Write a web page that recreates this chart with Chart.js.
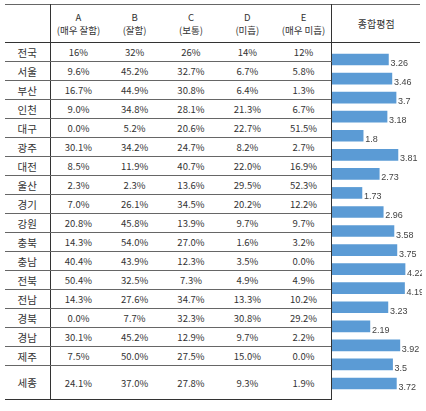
<!DOCTYPE html>
<html><head><meta charset="utf-8">
<script src="https://cdn.jsdelivr.net/npm/chart.js@4"></script>
<style>
body{margin:0;background:#fff;font-family:"Noto Sans CJK KR",sans-serif;}
#wrap{position:absolute;left:5px;top:4px;width:415px;}
table{border-collapse:collapse;font-size:9.5px;color:#333;table-layout:fixed;}
td{text-align:center;padding:0;border-bottom:1px solid #666;height:18px;}
td.lab{border-right:1px solid #333;font-size:10.5px;}
td.sc{border-left:1px solid #333;border-bottom:none;}
tr.head td{height:37px;border-bottom:1px solid #333;line-height:13px;}
tr.last td{height:33px;border-bottom:1px solid #333;}
#cv{position:absolute;left:332px;top:50px;}
</style></head><body>
<div id="wrap"><table id="tbl"></table></div>
<canvas id="cv" width="90" height="343"></canvas>
<script>
const regions = ['전국','서울','부산','인천','대구','광주','대전','울산','경기','강원','충북','충남','전북','전남','경북','경남','제주','세종'];
const colHeads = ['A<br>(매우 잘함)','B<br>(잘함)','C<br>(보통)','D<br>(미흡)','E<br>(매우 미흡)'];
const colA = ['16%','9.6%','16.7%','9.0%','0.0%','30.1%','8.5%','2.3%','7.0%','20.8%','14.3%','40.4%','50.4%','14.3%','0.0%','30.1%','7.5%','24.1%'];
const colB = ['32%','45.2%','44.9%','34.8%','5.2%','34.2%','11.9%','2.3%','26.1%','45.8%','54.0%','43.9%','32.5%','27.6%','7.7%','45.2%','50.0%','37.0%'];
const colC = ['26%','32.7%','30.8%','28.1%','20.6%','24.7%','40.7%','13.6%','34.5%','13.9%','27.0%','12.3%','7.3%','34.7%','32.3%','12.9%','27.5%','27.8%'];
const colD = ['14%','6.7%','6.4%','21.3%','22.7%','8.2%','22.0%','29.5%','20.2%','9.7%','1.6%','3.5%','4.9%','13.3%','30.8%','9.7%','15.0%','9.3%'];
const colE = ['12%','5.8%','1.3%','6.7%','51.5%','2.7%','16.9%','52.3%','12.2%','9.7%','3.2%','0.0%','4.9%','10.2%','29.2%','2.2%','0.0%','1.9%'];
const scoreLabels = ['3.26','3.46','3.7','3.18','1.8','3.81','2.73','1.73','2.96','3.58','3.75','4.22','4.19','3.23','2.19','3.92','3.5','3.72'];
const scores = scoreLabels.map(Number);

const tbl = document.getElementById('tbl');
tbl.style.borderTop = '1px solid #666';
let html = '<colgroup><col style="width:45px">' + '<col style="width:56.4px">'.repeat(5) + '<col style="width:88px"></colgroup>';
html += '<tr class="head"><td class="lab"></td>' + colHeads.map(h => `<td>${h}</td>`).join('') + '<td class="sc" style="border-bottom:1px solid #333;font-size:10px">종합평점</td></tr>';
regions.forEach((r, i) => {
    const cls = i === regions.length - 1 ? ' class="last"' : '';
    html += `<tr${cls}><td class="lab">${r}</td><td>${colA[i]}</td><td>${colB[i]}</td><td>${colC[i]}</td><td>${colD[i]}</td><td>${colE[i]}</td>`;
    if (i === 0) html += `<td class="sc" rowspan="${regions.length}"></td>`;
    html += '</tr>';
});
tbl.innerHTML = html;

const valueLabels = {
    id: 'valueLabels',
    afterDatasetsDraw(chart) {
        const ctx = chart.ctx;
        ctx.save();
        ctx.font = '9px "Liberation Sans Narrow", "Liberation Sans", sans-serif';
        ctx.fillStyle = '#444';
        ctx.textBaseline = 'middle';
        chart.getDatasetMeta(0).data.forEach((bar, i) => {
            ctx.fillText(scoreLabels[i], bar.x + 2, bar.y + 4);
        });
        ctx.restore();
    }
};

new Chart(document.getElementById('cv'), {
    type: 'bar',
    data: {
        labels: regions,
        datasets: [{
            data: scores,
            backgroundColor: '#5b9bd5',
            borderWidth: 0,
            barThickness: 11
        }]
    },
    options: {
        indexAxis: 'y',
        responsive: false,
        animation: false,
        layout: { padding: 0 },
        scales: {
            x: { display: false, min: 0, max: 5.2 },
            y: { display: false }
        },
        plugins: { legend: { display: false }, tooltip: { enabled: false } }
    },
    plugins: [valueLabels]
});
</script>
</body></html>
